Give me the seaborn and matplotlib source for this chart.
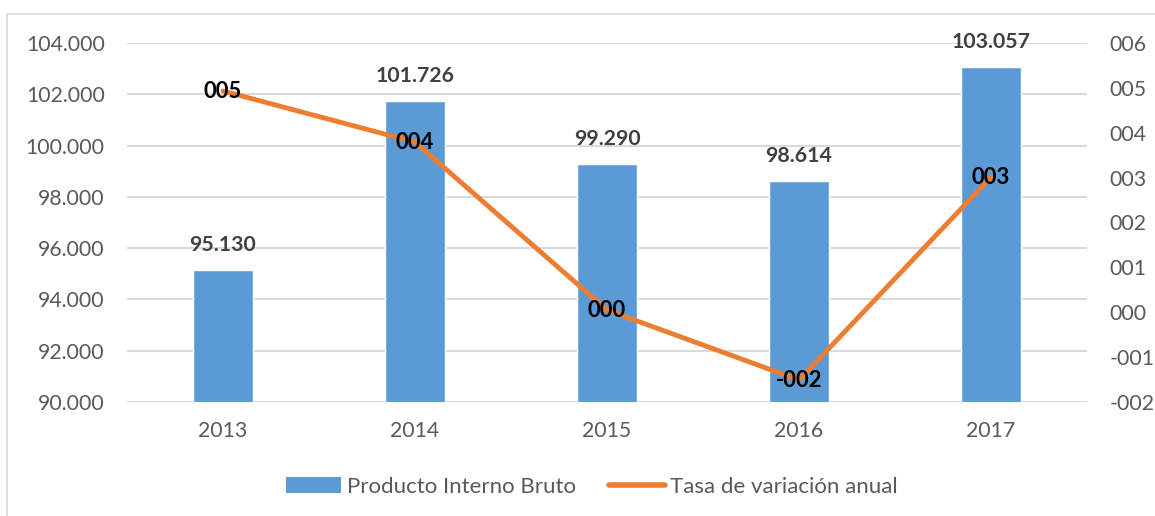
import matplotlib
matplotlib.use("Agg")
import matplotlib.pyplot as plt
import seaborn as sns
import pandas as pd
import numpy as np
from matplotlib.patches import Patch, Rectangle
from matplotlib.lines import Line2D
from matplotlib.ticker import FuncFormatter, MultipleLocator

years = ["2013", "2014", "2015", "2016", "2017"]
pib = [95130, 101726, 99290, 98614, 103057]
tasa = [4.93, 3.79, 0.05, -1.51, 3.01]
pib_labels = ["95.130", "101.726", "99.290", "98.614", "103.057"]
series_names = ["Producto Interno Bruto", "Tasa de variación anual"]

sns.set_theme(style="white")
plt.rcParams["font.family"] = ["Lato", "DejaVu Sans"]

BLUE = "#5B9BD5"
ORANGE = "#ED7D31"
TICK = "#595959"
GRID = "#D9D9D9"
FS = 15.3

df = pd.DataFrame({"year": years, "pib": pib, "tasa": tasa})

fig = plt.figure(figsize=(11.55, 5.16), dpi=100)
fig.patches.append(Rectangle((7 / 1155, -0.1), 1.2, 1 - 14 / 516 + 0.1,
                             transform=fig.transFigure, fill=False,
                             edgecolor=GRID, linewidth=1.2))
ax = fig.add_axes([127 / 1155, 1 - 402 / 516, 960 / 1155, 359 / 516])

sns.barplot(data=df, x="year", y="pib", color=BLUE, width=0.31,
            saturation=1, ax=ax, zorder=2)
ax.set_ylim(90000, 104000)
ax.yaxis.set_major_locator(MultipleLocator(2000))
ax.yaxis.set_major_formatter(FuncFormatter(lambda v, p: f"{v/1000:.3f}"))
ax.set_xlim(-0.5, 4.5)
ax.grid(axis="y", color=GRID, linewidth=1.5, zorder=0)
ax.set_axisbelow(True)
for s in ax.spines.values():
    s.set_visible(False)
ax.set_xlabel("")
ax.set_ylabel("")
ax.tick_params(axis="y", length=0, pad=16, labelsize=FS, labelcolor=TICK)
ax.tick_params(axis="x", length=0, pad=14, labelsize=FS, labelcolor=TICK)

for i, (v, lab) in enumerate(zip(pib, pib_labels)):
    ax.annotate(lab, (i, v), xytext=(0, 11), textcoords="offset points",
                ha="center", va="bottom", fontsize=FS, fontweight="bold",
                color="#404040")

ax2 = ax.twinx()
sns.lineplot(data=df, x="year", y="tasa", color=ORANGE, linewidth=3.5,
             sort=False, ax=ax2, zorder=3)
ax2.set_ylim(-2, 6)
ax2.yaxis.set_major_locator(MultipleLocator(1))


def fmt(v, p=None):
    r = int(round(v))
    return ("-" if r < 0 else "") + f"{abs(r):03d}"


ax2.yaxis.set_major_formatter(FuncFormatter(fmt))
for s in ax2.spines.values():
    s.set_visible(False)
ax2.set_ylabel("")
ax2.tick_params(axis="y", length=0, pad=16, labelsize=FS, labelcolor=TICK)
ax2.set_xlim(-0.5, 4.5)

for i, v in enumerate(tasa):
    ax2.annotate(fmt(v), (i, v), ha="center", va="center", fontsize=FS + 0.5,
                 fontweight="bold", color="black", zorder=5)

handles = [Patch(facecolor=BLUE, edgecolor="none"),
           Line2D([0], [0], color=ORANGE, linewidth=4, solid_capstyle="round")]
fig.legend(handles, series_names, loc="center", bbox_to_anchor=(592 / 1155, 1 - 487 / 516),
           ncol=2, frameon=False, fontsize=16, handlelength=2.5,
           handletextpad=0.25, columnspacing=1.5, labelcolor=TICK)

fig.savefig("out.png", dpi=100)
